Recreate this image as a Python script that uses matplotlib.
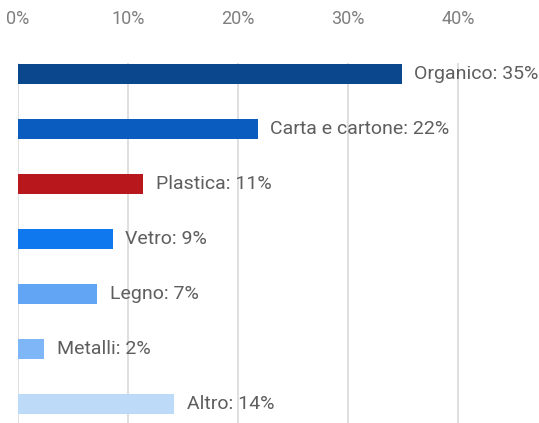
import matplotlib
matplotlib.use("Agg")
import matplotlib.pyplot as plt

categories = ["Organico", "Carta e cartone", "Plastica", "Vetro", "Legno", "Metalli", "Altro"]
values = [34.9, 21.8, 11.4, 8.6, 7.2, 2.4, 14.2]
colors = ["#0B478D", "#0A5CBF", "#B8181C", "#0F78EF", "#62A5F5", "#7EB6F7", "#BDDAF9"]
ticks = [0, 10, 20, 30, 40]
tick_labels = ["0%", "10%", "20%", "30%", "40%"]

plt.rcParams['font.family'] = ['Roboto', 'DejaVu Sans']

W, H = 539, 423
fig = plt.figure(figsize=(W / 100, H / 100), dpi=100)
left, top, bottom = 18, 63, 423
ax = fig.add_axes([left / W, 1 - bottom / H, 1 - left / W, (bottom - top) / H])

y = list(range(len(categories)))
ax.barh(y, values, height=0.36, color=colors, zorder=3)
for yi, v, c in zip(y, values, categories):
    ax.annotate(f"{c}: {v:.0f}%", (v, yi), xytext=(9, 0), textcoords="offset points",
                va="center", ha="left", fontsize=14, color="#5E5E5E", zorder=4)

ax.set_xlim(0, (W - left) / 11.0)
y_top = -11 / 55
y_bot = (bottom - 74) / 55
ax.set_ylim(y_bot, y_top)
ax.set_xticks(ticks)
ax.set_xticklabels(tick_labels)
ax.xaxis.tick_top()
ax.tick_params(axis="x", length=0, pad=25, labelsize=13, labelcolor="#7F7F7F")
ax.set_yticks([])
ax.grid(axis="x", color="#D9D9D9", linewidth=1.2, zorder=0)
for s in ax.spines.values():
    s.set_visible(False)

fig.savefig("out.png", dpi=100)
